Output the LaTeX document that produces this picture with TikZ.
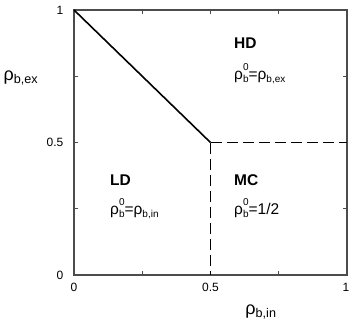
\documentclass[tikz,border=0pt]{standalone}
\usepackage{fontspec}
\setmainfont{Liberation Sans}
\newcommand\rhosub[1]{ρ\textsubscript{#1}}
\newcommand\smallsc{\fontsize{10}{10}\selectfont}
\newcommand\rhobz{ρ\rlap{\raisebox{1.05ex}{\smallsc 0}}\raisebox{-0.45ex}{\smallsc b}}
\newcommand\rhosm[1]{ρ\raisebox{-0.45ex}{\smallsc #1}}
\begin{document}
\begin{tikzpicture}[x=1pt,y=1pt,
  frame/.style={draw=black!70,line width=1.1pt},
  tickmark/.style={draw=black!70,line width=0.9pt},
  phase/.style={line width=1.6pt,black},
  dashphase/.style={line width=1.6pt,black,dash pattern=on 11pt off 5pt},
  ticklab/.style={font=\fontsize{12}{14}\selectfont,inner sep=0pt},
  axlab/.style={font=\fontsize{18}{20}\selectfont,inner sep=0pt},
  region/.style={font=\fontsize{15.5}{17}\selectfont\bfseries,inner sep=0pt,anchor=base west},
  formula/.style={font=\fontsize{15.5}{17}\selectfont,inner sep=0pt,anchor=base west}]
\useasboundingbox (0,0) rectangle (352,325);
\coordinate (LL) at (74,50);
\coordinate (UR) at (347,315);
\coordinate (UL) at (74,315);
\coordinate (M) at (210.5,182.5);
\coordinate (MR) at (347,182.5);
\coordinate (MB) at (210.5,50);
% ticks
\foreach \u in {0.25,0.5,0.75}{
  \draw[tickmark] ({74+273*\u},50) -- ++(0,4);
  \draw[tickmark] ({74+273*\u},315) -- ++(0,-4);
  \draw[tickmark] (74,{50+265*\u}) -- ++(4,0);
  \draw[tickmark] (347,{50+265*\u}) -- ++(-4,0);
}
\draw[frame] (LL) rectangle (UR);
\draw[phase] (UL) -- (M);
\draw[dashphase] (M) -- (MR);
\draw[dashphase] (M) -- (MB);
% tick labels
\node[ticklab] (y1) at (60,315) {1};
\node[ticklab] (y05) at (55,182.5) {0.5};
\node[ticklab] (y0) at (60,50) {0};
\node[ticklab] (x0) at (74,38) {0};
\node[ticklab] (x05) at (210.5,38) {0.5};
\node[ticklab] (x1) at (346,38) {1};
\node[axlab] (xl) at (261,13) {\rhosub{b,in}};
\node[axlab] (yl) at (21,247) {\rhosub{b,ex}};
% regions
\node[region] (hd) at (234,277) {HD};
\node[formula] (hdf) at (234,246) {\rhobz=\rhosm{b,ex}};
\node[region] (ld) at (110,140) {LD};
\node[formula] (ldf) at (110,111) {\rhobz=\rhosm{b,in}};
\node[region] (mc) at (234,140) {MC};
\node[formula] (mcf) at (234,111) {\rhobz=1/2};
\end{tikzpicture}
\end{document}
